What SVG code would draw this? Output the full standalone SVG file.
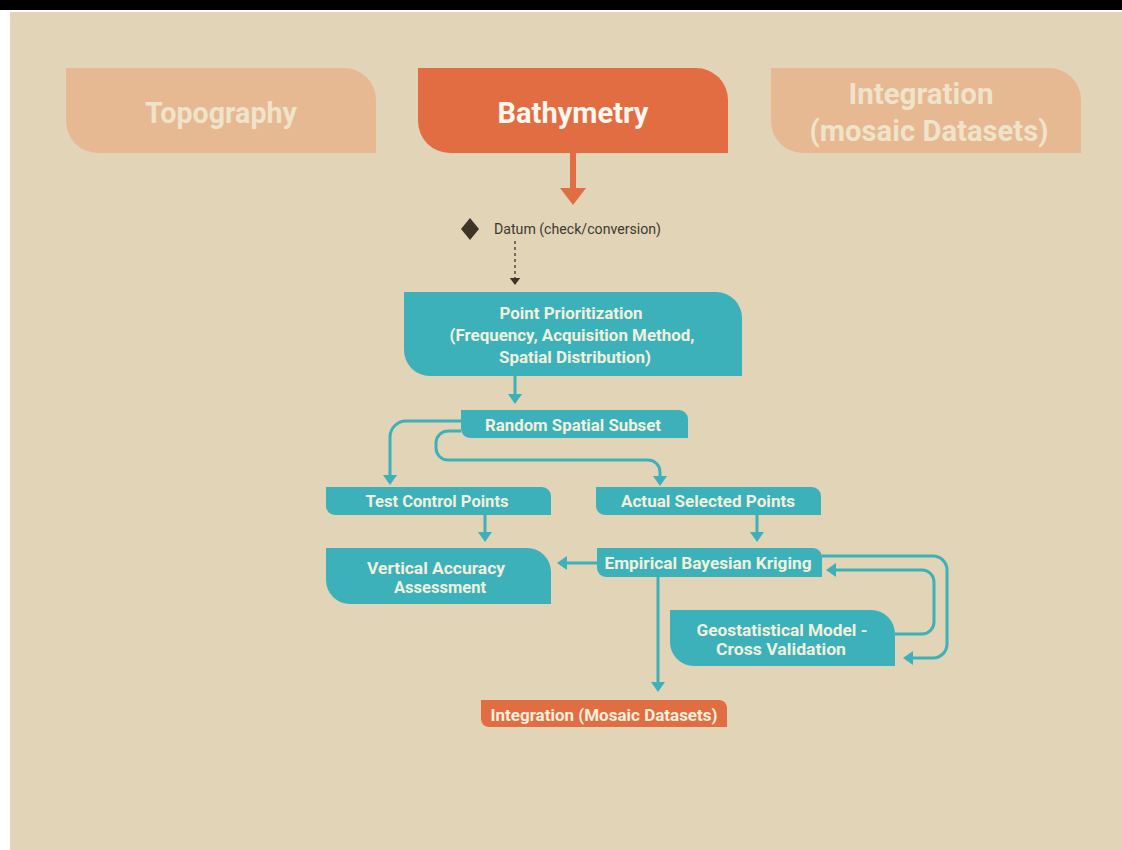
<svg xmlns="http://www.w3.org/2000/svg" width="1122" height="850" viewBox="0 0 1122 850">
<style>
.bg{fill:#e2d4b7}
.orange{fill:#e36d43}
.pale{fill:#e6b993}
.teal{fill:#3cb1ba}
.ht{font-family:Roboto,"Liberation Sans",sans-serif;font-weight:bold;font-size:30px;text-anchor:middle}
.hpale{fill:#efe3ca}
.hwhite{fill:#fdf7ee}
.t{font-family:Roboto,"Liberation Sans",sans-serif;font-weight:bold;font-size:17px;text-anchor:middle;fill:#f1f0dc}
.datum{font-family:Roboto,"Liberation Sans",sans-serif;font-size:14px;fill:#3d3a30}
.conn{fill:none;stroke:#3cb1ba;stroke-width:3}
</style>
<defs>
<marker id="ah" viewBox="0 0 10 14" refX="0" refY="7" markerWidth="10" markerHeight="14" markerUnits="userSpaceOnUse" orient="auto">
<path d="M0,0 L10,7 L0,14 Z" fill="#3cb1ba"/>
</marker>
<marker id="ahd" viewBox="0 0 8 12" refX="0" refY="6" markerWidth="7" markerHeight="12" markerUnits="userSpaceOnUse" orient="auto">
<path d="M0,0 L8,6 L0,12 Z" fill="#3e3428"/>
</marker>
</defs>
<rect x="0" y="0" width="1122" height="850" fill="#ffffff"/>
<rect x="0" y="0" width="1122" height="10" fill="#000000"/>
<rect x="10" y="12" width="1112" height="838" class="bg"/>

<g id="topography">
<path class="pale" d="M66,68 H344 A32,32 0 0 1 376,100 V153 H98 A32,32 0 0 1 66,121 Z"/>
<text class="ht hpale" x="221" y="123" textLength="152" lengthAdjust="spacingAndGlyphs">Topography</text>
</g>
<g id="bathymetry">
<path class="orange" d="M418,68 H696 A32,32 0 0 1 728,100 V153 H450 A32,32 0 0 1 418,121 Z"/>
<text class="ht hwhite" x="573" y="123" textLength="151" lengthAdjust="spacingAndGlyphs">Bathymetry</text>
</g>
<g id="integration-header">
<path class="pale" d="M771,68 H1049 A32,32 0 0 1 1081,100 V153 H803 A32,32 0 0 1 771,121 Z"/>
<text class="ht hpale" x="921" y="104" textLength="145" lengthAdjust="spacingAndGlyphs">Integration</text>
<text class="ht hpale" x="929" y="141" textLength="239" lengthAdjust="spacingAndGlyphs">(mosaic Datasets)</text>
</g>

<g id="datum">
<path d="M470,218 L479,229 L470,240 L461,229 Z" fill="#3e3428"/>
<text class="datum" x="494" y="234" textLength="167" lengthAdjust="spacingAndGlyphs">Datum (check/conversion)</text>
</g>

<g id="point-prioritization">
<path class="teal" d="M404,292 H716 A26,26 0 0 1 742,318 V376 H430 A26,26 0 0 1 404,350 Z"/>
<text class="t" x="571" y="319" textLength="143" lengthAdjust="spacingAndGlyphs">Point Prioritization</text>
<text class="t" x="572" y="341" textLength="245" lengthAdjust="spacingAndGlyphs">(Frequency, Acquisition Method,</text>
<text class="t" x="575" y="363" textLength="152" lengthAdjust="spacingAndGlyphs">Spatial Distribution)</text>
</g>

<g id="random-spatial-subset">
<path class="teal" d="M461,410 H679 A9,9 0 0 1 688,419 V438 H470 A9,9 0 0 1 461,429 Z"/>
<text class="t" x="573" y="431" textLength="176" lengthAdjust="spacingAndGlyphs">Random Spatial Subset</text>
</g>

<g id="test-control-points">
<path class="teal" d="M326,487 H542 A9,9 0 0 1 551,496 V515 H335 A9,9 0 0 1 326,506 Z"/>
<text class="t" x="437" y="507" textLength="143" lengthAdjust="spacingAndGlyphs">Test Control Points</text>
</g>

<g id="actual-selected-points">
<path class="teal" d="M596,487 H812 A9,9 0 0 1 821,496 V515 H605 A9,9 0 0 1 596,506 Z"/>
<text class="t" x="708" y="507" textLength="174" lengthAdjust="spacingAndGlyphs">Actual Selected Points</text>
</g>

<g id="vertical-accuracy-assessment">
<path class="teal" d="M326,548 H527 A24,24 0 0 1 551,572 V604 H350 A24,24 0 0 1 326,580 Z"/>
<text class="t" x="436" y="574" textLength="138" lengthAdjust="spacingAndGlyphs">Vertical Accuracy</text>
<text class="t" x="440" y="593" textLength="92" lengthAdjust="spacingAndGlyphs">Assessment</text>
</g>

<g id="empirical-bayesian-kriging">
<path class="teal" d="M597,548 H813 A9,9 0 0 1 822,557 V577 H606 A9,9 0 0 1 597,568 Z"/>
<text class="t" x="708" y="569" textLength="207" lengthAdjust="spacingAndGlyphs">Empirical Bayesian Kriging</text>
</g>

<g id="geostatistical-model">
<path class="teal" d="M670,610 H871 A24,24 0 0 1 895,634 V666 H694 A24,24 0 0 1 670,642 Z"/>
<text class="t" x="782" y="636" textLength="171" lengthAdjust="spacingAndGlyphs">Geostatistical Model -</text>
<text class="t" x="781" y="655" textLength="130" lengthAdjust="spacingAndGlyphs">Cross Validation</text>
</g>

<g id="integration-mosaic">
<path class="orange" d="M481,700 H719 A8,8 0 0 1 727,708 V727 H489 A8,8 0 0 1 481,719 Z"/>
<text class="t" x="604" y="721" textLength="227" lengthAdjust="spacingAndGlyphs">Integration (Mosaic Datasets)</text>
</g>

<g id="connectors">
<rect x="570" y="153" width="6" height="36" fill="#e36d43"/>
<path d="M560,188 L586,188 L573,205 Z" fill="#e36d43"/>
<path d="M515,241 V278" fill="none" stroke="#3e3428" stroke-width="1.3" stroke-dasharray="3,3" marker-end="url(#ahd)"/>
<path class="conn" d="M515,376 V394" marker-end="url(#ah)"/>
<path class="conn" d="M461,421 H406 A16,16 0 0 0 390,437 V475" marker-end="url(#ah)"/>
<path class="conn" d="M461,431 H448 A12,12 0 0 0 436,443 V448 A12,12 0 0 0 448,460 H648 A12,12 0 0 1 660,472 V476" marker-end="url(#ah)"/>
<path class="conn" d="M485,515 V532" marker-end="url(#ah)"/>
<path class="conn" d="M757,515 V532" marker-end="url(#ah)"/>
<path class="conn" d="M597,563 H567" marker-end="url(#ah)"/>
<path class="conn" d="M658,577 V682" marker-end="url(#ah)"/>
<path class="conn" d="M822,556 H933 A14,14 0 0 1 947,570 V644 A14,14 0 0 1 933,658 H913" marker-end="url(#ah)"/>
<path class="conn" d="M895,634 H922 A12,12 0 0 0 934,622 V582 A12,12 0 0 0 922,570 H836" marker-end="url(#ah)"/>
</g>
</svg>
